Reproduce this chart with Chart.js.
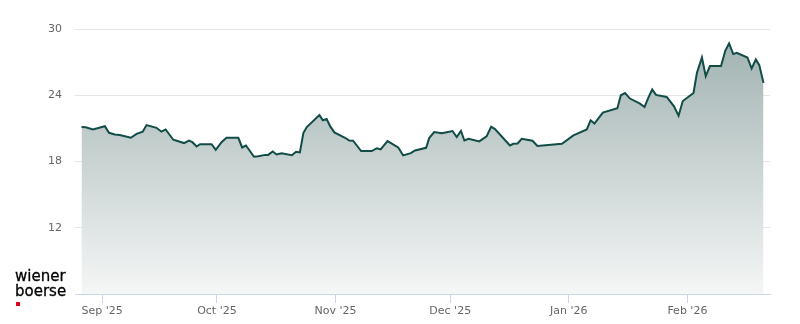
<!DOCTYPE html>
<html>
<head>
<meta charset="utf-8">
<script src="https://cdn.jsdelivr.net/npm/chart.js@4.4.1/dist/chart.umd.min.js"></script>
<style>
  html, body { margin: 0; padding: 0; background: #fff; }
  #wrap { position: relative; width: 800px; height: 324px; }
  #logo {
    position: absolute; left: 15px; top: 269px;
    font-family: "DejaVu Sans", sans-serif;
    font-size: 15px; line-height: 15px; color: #000;
    -webkit-text-stroke: 0.3px #000;
  }
  #logo .dot { position: absolute; left: 1px; top: 33px; width: 4px; height: 4px; background: #e2001a; }
</style>
</head>
<body>
<div id="wrap">
  <canvas id="chart" width="800" height="324"></canvas>
  <div id="logo">wiener<br>boerse<span class="dot"></span></div>
</div>
<script>
// days counted from 1 Sep 2025
const days = [-5.4, -4.3, -2.4, 0.7, 1.8, 3.3, 4.6, 7.5, 9.0, 10.6, 11.6, 14.2, 15.5, 16.6, 18.6,
  21.4, 22.7, 23.6, 24.7, 25.6, 28.6, 29.7, 31.2, 32.5, 35.6, 36.6, 37.6, 39.7, 40.8, 42.6,
  43.4, 44.6, 45.6, 46.9, 49.6, 50.7, 51.7, 52.6, 53.5, 56.8, 57.7, 58.7, 59.6, 60.7, 63.5,
  64.6, 65.6, 67.7, 70.5, 71.8, 72.8, 74.6, 77.4, 78.7, 80.7, 81.8, 84.7, 85.5, 86.8, 88.8,
  91.6, 92.7, 93.8, 94.7, 95.8, 98.6, 100.5, 101.7, 102.7, 106.6, 107.5, 108.6, 109.7, 112.5,
  113.8, 120.2, 123.2, 126.7, 127.7, 128.7, 130.9, 134.7, 135.6, 136.7, 138.0, 140.6, 141.8,
  142.8, 143.8, 144.8, 147.6, 149.5, 150.7, 151.8, 154.6, 155.5, 156.8, 157.8, 158.9, 161.8,
  162.9, 163.9, 165.0, 165.9, 168.7, 169.8, 170.9, 171.8, 172.9];
const prices = [21.12, 21.1, 20.9, 21.2, 20.6, 20.45, 20.4, 20.15, 20.5, 20.7, 21.3, 21.05, 20.7, 20.9, 19.97,
  19.67, 19.9, 19.75, 19.36, 19.57, 19.57, 19.06, 19.75, 20.15, 20.15, 19.27, 19.45, 18.43, 18.48, 18.6,
  18.6, 18.9, 18.64, 18.75, 18.57, 18.88, 18.82, 20.57, 21.12, 22.2, 21.73, 21.85, 21.2, 20.64, 20.15,
  19.9, 19.88, 18.94, 18.94, 19.2, 19.1, 19.85, 19.27, 18.55, 18.76, 19.0, 19.24, 20.12, 20.67, 20.55,
  20.76, 20.21, 20.76, 19.9, 20.06, 19.82, 20.27, 21.15, 20.94, 19.45, 19.6, 19.63, 20.06, 19.88,
  19.4, 19.6, 20.36, 20.9, 21.73, 21.43, 22.43, 22.82, 24.0, 24.2, 23.7, 23.24, 22.94,
  23.79, 24.52, 24.03, 23.85, 23.0, 22.15, 23.48, 24.2, 26.03, 27.42, 25.73, 26.64, 26.64,
  28.03, 28.7, 27.73, 27.85, 27.42, 26.42, 27.24, 26.73, 25.12];
const monthStarts = [0, 30, 61, 91, 122, 153];
const monthLabels = ["Sep '25", "Oct '25", "Nov '25", "Dec '25", "Jan '26", "Feb '26"];
const yTicks = [6, 12, 18, 24, 30];

const ctx = document.getElementById('chart').getContext('2d');

new Chart(ctx, {
  type: 'line',
  data: {
    datasets: [{
      data: days.map((d, i) => ({ x: d, y: prices[i] })),
      borderColor: '#114c47',
      borderWidth: 2,
      pointRadius: 0,
      tension: 0,
      fill: 'start',
      backgroundColor: (c) => {
        const area = c.chart.chartArea;
        if (!area) return 'rgba(160,180,178,0.6)';
        const g = c.chart.ctx.createLinearGradient(0, area.top, 0, area.bottom);
        g.addColorStop(0, '#9db0ae');
        g.addColorStop(1, '#f5f6f6');
        return g;
      }
    }]
  },
  options: {
    responsive: false,
    animation: false,
    layout: { padding: { top: 29, right: 30, bottom: 0, left: 0 } },
    plugins: { legend: { display: false }, tooltip: { enabled: false } },
    scales: {
      x: {
        type: 'linear',
        min: -7.1,
        max: 174.6,
        afterBuildTicks: (axis) => { axis.ticks = monthStarts.map(v => ({ value: v })); },
        afterFit: (axis) => { axis.height = 30; },
        grid: { drawOnChartArea: false, drawTicks: true, tickLength: 9, color: '#ccd6eb' },
        border: { color: '#ccd6eb', width: 1 },
        ticks: {
          autoSkip: false, maxRotation: 0, padding: 2,
          color: '#666', font: { family: 'DejaVu Sans', size: 11 },
          callback: (v) => monthLabels[monthStarts.indexOf(v)]
        }
      },
      y: {
        min: 6,
        max: 30,
        afterBuildTicks: (axis) => { axis.ticks = yTicks.map(v => ({ value: v })); },
        afterFit: (axis) => { axis.width = 75; },
        border: { display: false },
        grid: {
          drawTicks: false,
          color: (c) => c.tick && c.tick.value === 6 ? 'rgba(0,0,0,0)' : '#e6e6e6'
        },
        ticks: {
          padding: 13,
          color: '#666', font: { family: 'DejaVu Sans', size: 11 },
          callback: (v) => v === 6 ? '' : String(v)
        }
      }
    }
  }
});
</script>
</body>
</html>
